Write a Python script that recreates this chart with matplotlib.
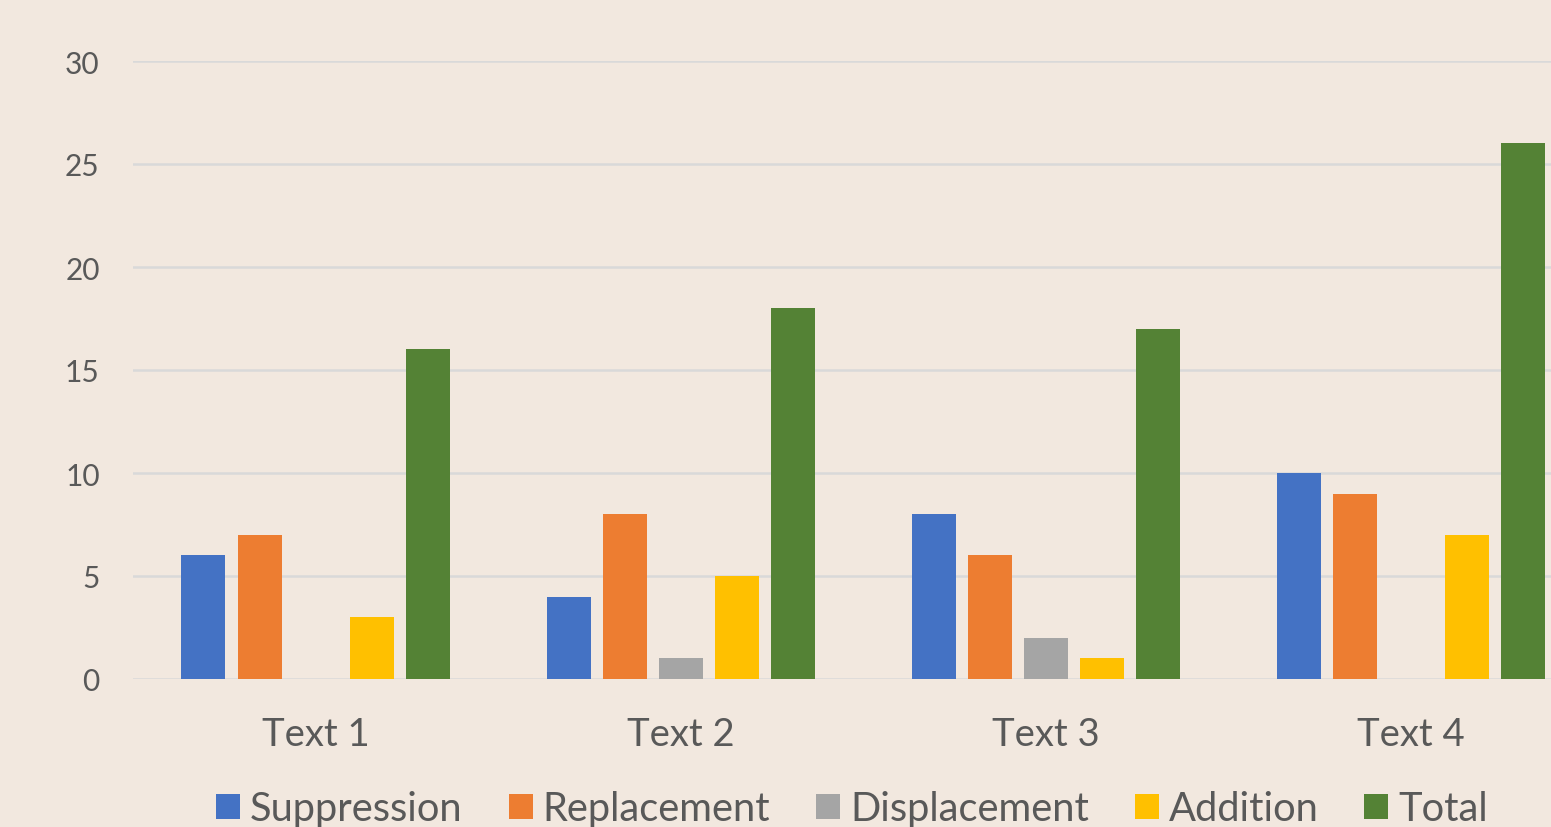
import matplotlib
matplotlib.use("Agg")
import matplotlib.pyplot as plt
import numpy as np

categories = ["Text 1", "Text 2", "Text 3", "Text 4"]
series_names = ["Suppression", "Replacement", "Displacement", "Addition", "Total"]
suppression = [6, 4, 8, 10]
replacement = [7, 8, 6, 9]
displacement = [0, 1, 2, 0]
addition = [3, 5, 1, 7]
total = [16, 18, 17, 26]
yticks = [0, 5, 10, 15, 20, 25, 30]

colors = ["#4472C4", "#ED7D31", "#A5A5A5", "#FFC000", "#548235"]
bg = "#F2E8DF"
txt = "#595959"

plt.rcParams['font.family'] = ['Lato', 'DejaVu Sans']

W, H = 1551, 828
fig = plt.figure(figsize=(W / 100, H / 100), dpi=100, facecolor=bg)
left = 133 / W
width = (1593 - 133) / W
bottom = (H - 680) / H
height = (680 - 62) / H
ax = fig.add_axes([left, bottom, width, height], facecolor=bg)

x = np.arange(len(categories))
pitch = 56 / 365
bw = 44 / 365
data = [suppression, replacement, displacement, addition, total]
for i, (name, vals, c) in enumerate(zip(series_names, data, colors)):
    ax.bar(x + (i - 2) * pitch, vals, width=bw, color=c, label=name, zorder=3)

ax.set_xlim(-0.5, 3.5)
ax.set_ylim(0, 30)
ax.set_yticks(yticks)
ax.set_xticks(x)
ax.set_xticklabels(categories, fontsize=27.5, color=txt)
ax.tick_params(axis='y', labelsize=21.5, labelcolor=txt, length=0, pad=24)
ax.tick_params(axis='x', length=0, pad=27)
ax.grid(axis='y', color="#D9D9D9", linewidth=1.8, zorder=0)
for s in ax.spines.values():
    s.set_visible(False)

handles, labels = ax.get_legend_handles_labels()
leg = fig.legend(handles, labels, loc='center', bbox_to_anchor=(852 / W, 1 - 810 / H),
                 ncol=5, frameon=False, fontsize=28.7, handlelength=0.6, handleheight=0.6,
                 handletextpad=0.25, columnspacing=1.15, labelcolor=txt)

fig.savefig("out.png", dpi=100, facecolor=bg)
